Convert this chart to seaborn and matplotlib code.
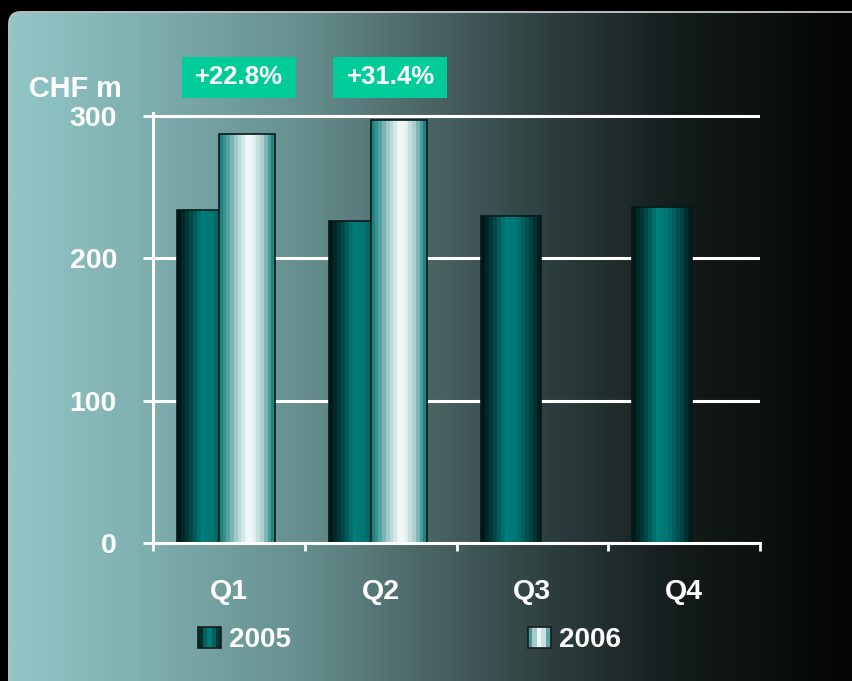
import numpy as np
import pandas as pd
import matplotlib
matplotlib.use("Agg")
import matplotlib.pyplot as plt
import seaborn as sns
from matplotlib.colors import LinearSegmentedColormap
from matplotlib.patches import FancyBboxPatch, Rectangle
from matplotlib.legend_handler import HandlerBase

# Quarterly figures, CHF m
quarters = ["Q1", "Q2", "Q3", "Q4"]
years = ["2005", "2006"]
revenue_2005 = [234, 226, 230, 236]
revenue_2006 = [287.4, 297.0, np.nan, np.nan]
growth_labels = ["+22.8%", "+31.4%"]
y_ticks = [0, 100, 200, 300]
unit_label = "CHF m"

sns.set_theme(style="white")
plt.rcParams["font.family"] = ["Liberation Sans", "DejaVu Sans"]
plt.rcParams["font.weight"] = "bold"

W, H = 852, 681
fig = plt.figure(figsize=(W / 100, H / 100), dpi=100)
fig.patch.set_facecolor("black")

# ---- background panel with rounded corner and horizontal fade ----
bg = fig.add_axes([0, 0, 1, 1], zorder=-10)
bg.set_xlim(0, W)
bg.set_ylim(H, 0)
bg.axis("off")
bg_cmap = LinearSegmentedColormap.from_list(
    "panel",
    [(0.00, (146/255, 199/255, 199/255)),
     (0.15, (128/255, 176/255, 176/255)),
     (0.35, (102/255, 142/255, 142/255)),
     (0.50, (74/255, 100/255, 100/255)),
     (0.65, (44/255, 60/255, 60/255)),
     (0.80, (20/255, 27/255, 27/255)),
     (1.00, (4/255, 5/255, 5/255))])
panel = FancyBboxPatch((9, 12), W + 20, H + 20,
                       boxstyle="round,pad=0,rounding_size=12",
                       facecolor="none", edgecolor="#bdbdbd", lw=1.4)
bg.add_patch(panel)
grad = np.linspace(0, 1, 600)[None, :]
im = bg.imshow(grad, extent=(9, W, H, 12), cmap=bg_cmap, aspect="auto",
               interpolation="bilinear")
im.set_clip_path(panel)
bg.set_xlim(0, W)
bg.set_ylim(H, 0)

# ---- bar chart ----
px_per_unit = (543 - 116) / 300
y_top = 300 + 3 / px_per_unit
ax = fig.add_axes([153 / W, 1 - 543 / H, (760 - 153) / W, (543 - 113) / H])
ax.set_facecolor("none")

df = pd.DataFrame({
    "quarter": quarters * 2,
    "year": [years[0]] * 4 + [years[1]] * 4,
    "value": revenue_2005 + revenue_2006,
}).dropna()

sns.barplot(data=df, x="quarter", y="value", hue="year", order=quarters,
            hue_order=years, width=0.52, dodge=True, errorbar=None,
            legend=False, ax=ax, palette=["#007f7c", "#e0f0f0"])

cmap_2005 = LinearSegmentedColormap.from_list(
    "c05", [(0, "#001818"), (0.15, "#003a3a"), (0.42, "#007f7c"),
            (0.6, "#007674"), (0.85, "#004444"), (1, "#001e1e")])
cmap_2006 = LinearSegmentedColormap.from_list(
    "c06", [(0, "#1e8480"), (0.12, "#4a9c9a"), (0.3, "#a8cccc"),
            (0.5, "#eef7f7"), (0.6, "#f2f8f8"), (0.8, "#a8cccc"),
            (0.93, "#4a9c9a"), (1, "#1e8480")])
# overlapping cylinders: width and offset from the category centre per year
bar_widths = {0: 0.395, 1: 0.366}
bar_offsets = {0: -0.143, 1: 0.12}
bar_cmaps = {0: cmap_2005, 1: cmap_2006}
stripes = np.linspace(0, 1, 15)[None, :]

for p in list(ax.patches):
    c = p.get_x() + p.get_width() / 2
    cat = round(c)
    hue = 0 if c - cat < 0 else 1
    w = bar_widths[hue]
    c = cat + bar_offsets[hue]
    p.set_width(w)
    p.set_x(c - w / 2)
    p.set_facecolor("none")
    p.set_edgecolor("#061818")
    p.set_linewidth(1.2)
    p.set_zorder(2.2 + hue * 0.2)
    h = p.get_height()
    img = ax.imshow(stripes, cmap=bar_cmaps[hue], vmin=0, vmax=1,
                    extent=(c - w / 2, c + w / 2, 0, h), aspect="auto",
                    interpolation="nearest", zorder=2.1 + hue * 0.2)
    img.set_clip_path(p)

ax.set_xlim(-0.5, len(quarters) - 0.5)
ax.set_ylim(0, y_top)
ax.set_xlabel("")
ax.set_ylabel("")

for side in ("top", "right"):
    ax.spines[side].set_visible(False)
for side in ("left", "bottom"):
    ax.spines[side].set_color("white")
    ax.spines[side].set_linewidth(2.2)
    ax.spines[side].set_zorder(3)

ax.set_axisbelow(True)
ax.yaxis.grid(True, color="white", linewidth=2.2)
ax.xaxis.grid(False)

ax.set_yticks(y_ticks)
ax.set_yticklabels([str(t) for t in y_ticks])
ax.tick_params(axis="y", length=7, width=2, color="white", direction="out",
               labelcolor="white", labelsize=20.5, pad=19, left=True)
ax.set_xticks(range(len(quarters)))
ax.set_xticklabels(quarters)
ax.tick_params(axis="x", which="major", length=0, pad=26,
               labelcolor="white", labelsize=20.5)
ax.set_xticks(np.arange(-0.5, len(quarters), 1), minor=True)
ax.tick_params(axis="x", which="minor", length=6, width=2, color="white",
               direction="out", bottom=True)

# growth call-outs above the first two quarters
box_w = 114 / ((760 - 153) / len(quarters))
box_h = 40 / px_per_unit
box_yc = (543 - 77.5) / px_per_unit
for i, lab in enumerate(growth_labels):
    cx = i + 0.065
    ax.add_patch(Rectangle((cx - box_w / 2, box_yc - box_h / 2), box_w, box_h,
                           facecolor="#00cc99", edgecolor="none",
                           clip_on=False, zorder=5))
    ax.text(cx, box_yc, lab, ha="center", va="center", color="white",
            fontsize=18.5, fontweight="bold", zorder=6, clip_on=False)

fig.text(29 / W, 1 - 97 / H, unit_label, ha="left", va="baseline",
         color="white", fontsize=20.8, fontweight="bold")


# legend with striped swatches
class StripeHandler(HandlerBase):
    def __init__(self, cmap):
        super().__init__()
        self.cmap = cmap

    def create_artists(self, legend, orig_handle, xdescent, ydescent,
                       width, height, fontsize, trans):
        n = 5
        arts = []
        for k in range(n):
            arts.append(Rectangle((-xdescent + k * width / n, -ydescent),
                                  width / n, height,
                                  facecolor=self.cmap((k + 0.5) / n),
                                  edgecolor="none", transform=trans))
        arts.append(Rectangle((-xdescent, -ydescent), width, height,
                              facecolor="none", edgecolor="#1a1a1a",
                              lw=1.2, transform=trans))
        return arts


handles = [Rectangle((0, 0), 1, 1), Rectangle((0, 0), 1, 1)]
fig.legend(handles, years,
           handler_map={handles[0]: StripeHandler(cmap_2005),
                        handles[1]: StripeHandler(cmap_2006)},
           loc="center left", bbox_to_anchor=(198 / W, 1 - 640 / H),
           ncol=2, frameon=False, fontsize=20, labelcolor="white",
           handlelength=0.83, handleheight=0.8, handletextpad=0.3,
           columnspacing=8.5, borderpad=0, borderaxespad=0)

fig.savefig("out.png", dpi=100, facecolor=fig.get_facecolor())
